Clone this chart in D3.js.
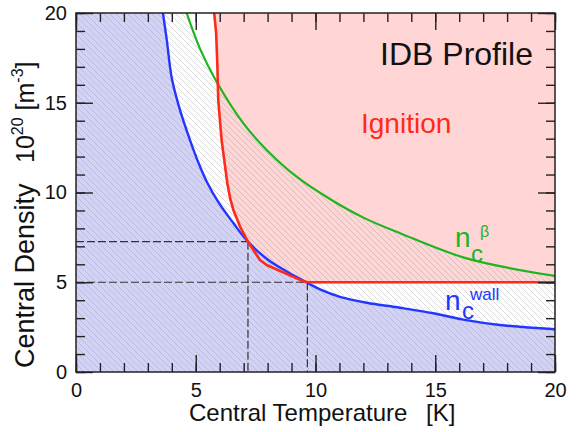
<!DOCTYPE html>
<html>
<head>
<meta charset="utf-8">
<script src="https://cdn.jsdelivr.net/npm/d3@7"></script>
<style>
  html, body { margin: 0; padding: 0; background: #fff; }
  svg { display: block; font-family: "Liberation Sans", Arial, sans-serif; }
</style>
</head>
<body>
<svg id="chart" width="582" height="432"></svg>
<script>
// Axis ticks
const majorTicks = [0, 5, 10, 15, 20];
const minorTicks = d3.range(0, 21, 1);

// Wall-limited density n_c^wall vs central temperature [T, n]
const wallCurve = [
  [3.63, 20], [3.79, 18.5], [4.0, 16.36], [4.34, 14.6], [4.76, 12.92],
  [5.13, 11.6], [5.46, 10.6], [5.95, 9.45], [6.57, 8.3], [7.18, 7.26],
  [8.03, 6.24], [8.8, 5.6], [9.66, 4.97], [10.19, 4.6], [11.02, 4.19],
  [12.14, 3.86], [13.53, 3.58], [14.92, 3.27], [16.17, 2.92], [17.7, 2.62],
  [20, 2.38]
];

// Ignition boundary
const ignitionCurve = [
  [5.77, 20], [5.85, 18.9], [5.9, 17.2], [5.94, 15.15], [6.08, 12.92],
  [6.32, 10.5], [6.45, 9.6], [6.57, 9.03], [6.85, 8.1], [7.18, 7.26],
  [7.68, 6.24], [7.96, 5.96], [9.35, 5.13], [9.66, 5.0], [20, 5.0]
];

// Beta-limited density n_c^beta
const betaCurve = [
  [4.62, 20], [5.18, 18.0], [5.87, 16.17], [6.99, 13.85], [7.96, 12.37],
  [9.21, 10.88], [10.67, 9.58], [12.0, 8.6], [13.53, 7.73], [16.31, 6.33],
  [20, 5.35]
];

// Operating points marked with dashed guides
const operatingPoints = [[7.18, 7.26], [9.66, 5.0]];

const svg = d3.select("#chart");
const x = d3.scaleLinear().domain([0, 20]).range([76, 555]);
const y = d3.scaleLinear().domain([0, 20]).range([372, 13]);

const line = d3.line().x(d => x(d[0])).y(d => y(d[1]));
const smooth = d3.line().x(d => x(d[0])).y(d => y(d[1])).curve(d3.curveCatmullRom.alpha(0.5));

// Closes a curve down to the lower-left corner of the plot
function regionBelow(curve) {
  const path = smooth(curve);
  return "M" + x(0) + "," + y(20) + "L" + path.slice(1) +
         "L" + x(20) + "," + y(0) + "L" + x(0) + "," + y(0) + "Z";
}

// Diagonal hatch
const defs = svg.append("defs");
const pat = defs.append("pattern")
  .attr("id", "hatch").attr("patternUnits", "userSpaceOnUse")
  .attr("width", 6).attr("height", 6);
pat.append("path")
  .attr("d", "M-1,-1 L7,7 M-1,5 L1,7 M5,-1 L7,1")
  .attr("stroke", "#8a8a8a").attr("stroke-width", 0.8).attr("stroke-opacity", 0.4);

defs.append("clipPath").attr("id", "plot")
  .append("rect").attr("x", x(0)).attr("y", y(20))
  .attr("width", x(20) - x(0)).attr("height", y(0) - y(20));

const g = svg.append("g").attr("clip-path", "url(#plot)");

// Ignition region (right of / above the boundary)
g.append("path")
  .attr("d", line([...ignitionCurve, [20, 20]]) + "Z")
  .attr("fill", "#ffd5d5");

// Region below the wall limit
g.append("path").attr("d", regionBelow(wallCurve)).attr("fill", "#d3d3f9");

// Hatched region below the beta limit
g.append("path").attr("d", regionBelow(betaCurve)).attr("fill", "url(#hatch)");

// Dashed guides to the operating points
operatingPoints.forEach(([t, n]) => {
  g.append("line").attr("x1", x(0)).attr("x2", x(t)).attr("y1", y(n)).attr("y2", y(n))
    .attr("stroke", "#333").attr("stroke-width", 1.2).attr("stroke-dasharray", "8,3");
  g.append("line").attr("x1", x(t)).attr("x2", x(t)).attr("y1", y(n)).attr("y2", y(0))
    .attr("stroke", "#333").attr("stroke-width", 1.2).attr("stroke-dasharray", "8,3");
});

// Curves
g.append("path").attr("d", smooth(betaCurve)).attr("fill", "none")
  .attr("stroke", "#1fb51f").attr("stroke-width", 2.2);
g.append("path").attr("d", smooth(wallCurve)).attr("fill", "none")
  .attr("stroke", "#2236ff").attr("stroke-width", 2.4);
g.append("path").attr("d", line(ignitionCurve)).attr("fill", "none")
  .attr("stroke", "#ff2a1a").attr("stroke-width", 2.6).attr("stroke-linejoin", "round");

// Axes with inward ticks on all four sides
function axisStyle(sel) {
  sel.select(".domain").remove();
  sel.selectAll("line").attr("stroke", "#222").attr("stroke-width", 1.4);
  sel.selectAll("text").attr("fill", "#111").style("font-size", "20px")
    .style("font-family", "'Liberation Sans', Arial, sans-serif");
}
const H = y(0), T = y(20), L = x(0), R = x(20);

svg.append("g").attr("transform", `translate(0,${H})`)
  .call(d3.axisBottom(x).tickValues(minorTicks).tickSize(-9).tickFormat(""))
  .call(axisStyle);
svg.append("g").attr("transform", `translate(0,${H})`)
  .call(d3.axisBottom(x).tickValues(majorTicks).tickSize(-17).tickPadding(11).tickFormat(d3.format("d")))
  .call(axisStyle);
svg.append("g").attr("transform", `translate(0,${T})`)
  .call(d3.axisTop(x).tickValues(minorTicks).tickSize(-9).tickFormat(""))
  .call(axisStyle);
svg.append("g").attr("transform", `translate(0,${T})`)
  .call(d3.axisTop(x).tickValues(majorTicks).tickSize(-17).tickFormat(""))
  .call(axisStyle);
svg.append("g").attr("transform", `translate(${L},0)`)
  .call(d3.axisLeft(y).tickValues(minorTicks).tickSize(-9).tickFormat(""))
  .call(axisStyle);
svg.append("g").attr("transform", `translate(${L},0)`)
  .call(d3.axisLeft(y).tickValues(majorTicks).tickSize(-17).tickPadding(9).tickFormat(d3.format("d")))
  .call(axisStyle);
svg.append("g").attr("transform", `translate(${R},0)`)
  .call(d3.axisRight(y).tickValues(minorTicks).tickSize(-9).tickFormat(""))
  .call(axisStyle);
svg.append("g").attr("transform", `translate(${R},0)`)
  .call(d3.axisRight(y).tickValues(majorTicks).tickSize(-17).tickFormat(""))
  .call(axisStyle);

// Frame
svg.append("rect").attr("x", L).attr("y", T).attr("width", R - L).attr("height", H - T)
  .attr("fill", "none").attr("stroke", "#222").attr("stroke-width", 1.5);

// Annotations
svg.append("text").attr("x", 533).attr("y", 65).attr("text-anchor", "end")
  .style("font-size", "32px").attr("fill", "#111").text("IDB Profile");
svg.append("text").attr("x", 361).attr("y", 133)
  .style("font-size", "28px").attr("fill", "#ff2a1a").text("Ignition");

const beta = svg.append("text").attr("fill", "#1fb51f");
beta.append("tspan").attr("x", 455).attr("y", 247).style("font-size", "28px").text("n");
beta.append("tspan").attr("x", 471).attr("y", 262).style("font-size", "24px").text("c");
beta.append("tspan").attr("x", 480).attr("y", 237).style("font-size", "16px").text("β");

const wall = svg.append("text").attr("fill", "#2236ff");
wall.append("tspan").attr("x", 445).attr("y", 310).style("font-size", "28px").text("n");
wall.append("tspan").attr("x", 462).attr("y", 319).style("font-size", "24px").text("c");
wall.append("tspan").attr("x", 470).attr("y", 300).style("font-size", "17px").text("wall");

// Axis titles
const xt = svg.append("text").attr("fill", "#111").style("font-size", "24px");
xt.append("tspan").attr("x", 189).attr("y", 421).text("Central Temperature");
xt.append("tspan").attr("x", 426).attr("y", 421).text("[K]");

const yt = svg.append("text").attr("fill", "#111").style("font-size", "27px")
  .attr("transform", "translate(34,368) rotate(-90)");
yt.append("tspan").attr("x", 0).attr("y", 0).text("Central Density");
yt.append("tspan").attr("x", 205).attr("y", 0).style("font-size", "25px").text("10");
yt.append("tspan").attr("dy", -11).style("font-size", "16px").text("20");
yt.append("tspan").attr("dy", 11).style("font-size", "25px").text(" [m");
yt.append("tspan").attr("dy", -11).style("font-size", "16px").text("-3");
yt.append("tspan").attr("dy", 11).style("font-size", "25px").text("]");
</script>
</body>
</html>
